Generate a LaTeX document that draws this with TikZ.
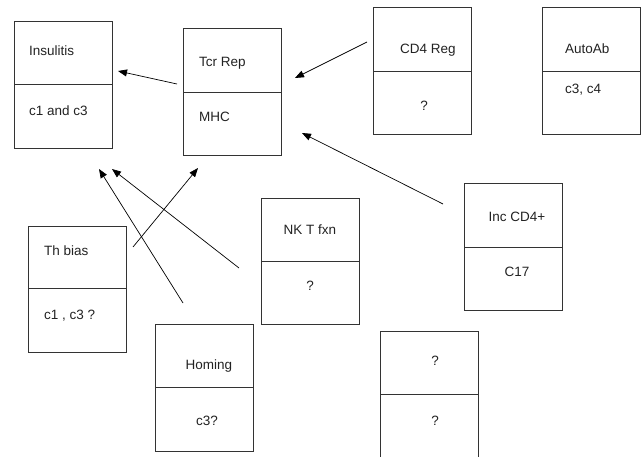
\documentclass[tikz,border=0pt]{standalone}
\usepackage{fontspec}
\setmainfont{Liberation Sans}
\usetikzlibrary{arrows.meta}
\definecolor{boxline}{HTML}{333333}
\definecolor{txt}{HTML}{222222}
\tikzset{
  cell/.style={draw=boxline, line width=0.9pt, minimum width=98pt, inner sep=0pt, anchor=north west},
  lbl/.style={font=\fontsize{13.5pt}{15pt}\selectfont, text=txt, inner sep=0pt, text height=1.5ex, text depth=0.25ex},
  lblw/.style={lbl, anchor=west},
  conn/.style={draw=black, line width=0.7pt, -{Triangle[length=9pt,width=7pt]}}
}
\begin{document}
\begin{tikzpicture}[x=1pt,y=-1pt]
\useasboundingbox (0,0) rectangle (642,457);
% Insulitis
\node[cell, minimum height=63pt] (insT) at (14,21) {};
\node[cell, minimum height=64pt] (insB) at (14,84) {};
\node[lblw] (insTt) at (29,52) {Insulitis};
\node[lblw] (insBt) at (29,112) {c1 and c3};
% Tcr Rep
\node[cell, minimum height=64pt] (tcrT) at (183,28) {};
\node[cell, minimum height=63pt] (tcrB) at (183,92) {};
\node[lblw] (tcrTt) at (199,63) {Tcr Rep};
\node[lblw] (tcrBt) at (199,118) {MHC};
% CD4 Reg
\node[cell, minimum height=64pt] (cd4T) at (373,7) {};
\node[cell, minimum height=63pt] (cd4B) at (373,71) {};
\node[lbl] (cd4Tt) at (428,50) {CD4 Reg};
\node[lbl] (cd4Bt) at (424,107) {?};
% AutoAb
\node[cell, minimum height=64pt] (autoT) at (542,7) {};
\node[cell, minimum height=63pt] (autoB) at (542,71) {};
\node[lblw] (autoTt) at (565,50) {AutoAb};
\node[lblw] (autoBt) at (565,90) {c3, c4};
% Th bias
\node[cell, minimum height=62pt] (thT) at (28,226) {};
\node[cell, minimum height=64pt] (thB) at (28,288) {};
\node[lblw] (thTt) at (44,252) {Th bias};
\node[lblw] (thBt) at (44,316) {c1 , c3 ?};
% NK T fxn
\node[cell, minimum height=63pt] (nkT) at (261,198) {};
\node[cell, minimum height=63pt] (nkB) at (261,261) {};
\node[lbl] (nkTt) at (310,231) {NK T fxn};
\node[lbl] (nkBt) at (310,287) {?};
% Inc CD4+
\node[cell, minimum height=64pt] (incT) at (464,183) {};
\node[cell, minimum height=63pt] (incB) at (464,247) {};
\node[lbl] (incTt) at (517,218) {Inc CD4+};
\node[lbl] (incBt) at (517,273) {C17};
% Homing
\node[cell, minimum height=63pt] (homT) at (155,324) {};
\node[cell, minimum height=64pt] (homB) at (155,387) {};
\node[lbl] (homTt) at (209,366) {Homing};
\node[lbl] (homBt) at (207,422) {c3?};
% ? / ?
\node[cell, minimum height=63pt] (qT) at (380,331) {};
\node[cell, minimum height=66pt] (qB) at (380,394) {};
\node[lbl] (qTt) at (435,362) {?};
\node[lbl] (qBt) at (435,422) {?};
% connector ends
\coordinate (a1s) at (177,84);  \coordinate (a1e) at (118,71);
\coordinate (a2s) at (367,42);  \coordinate (a2e) at (295,78);
\coordinate (a3s) at (443,204); \coordinate (a3e) at (302,133);
\coordinate (a4s) at (133,247); \coordinate (a4e) at (198,168);
\coordinate (a5s) at (183,303); \coordinate (a5e) at (99,169);
\coordinate (a6s) at (239,268); \coordinate (a6e) at (112,169);
\draw[conn] (a1s) -- (a1e);
\draw[conn] (a2s) -- (a2e);
\draw[conn] (a3s) -- (a3e);
\draw[conn] (a4s) -- (a4e);
\draw[conn] (a5s) -- (a5e);
\draw[conn] (a6s) -- (a6e);
\end{tikzpicture}
\end{document}
